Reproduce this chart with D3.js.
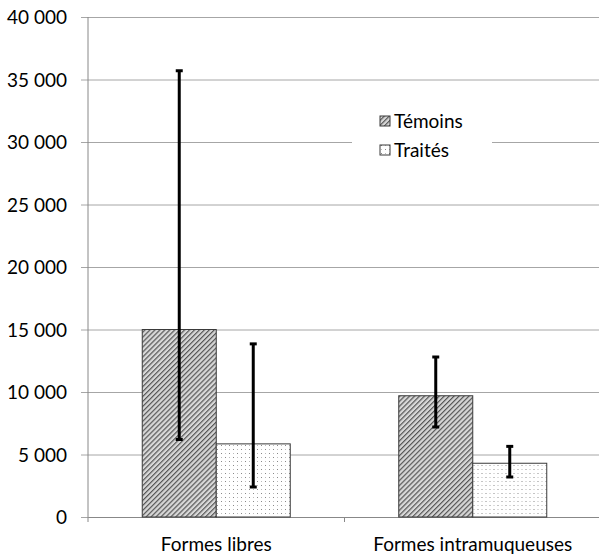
<!DOCTYPE html>
<html>
<head>
<meta charset="utf-8">
<script src="https://cdn.jsdelivr.net/npm/d3@7"></script>
<style>
  body { margin: 0; background: #fff; }
  svg text { font-family: Lato, "Open Sans", sans-serif; fill: #000; }
</style>
</head>
<body>
<svg id="SVG_CONTAINER" width="599" height="558"></svg>
<script>
// data
const categories = ["Formes libres", "Formes intramuqueuses"];
const series = ["Témoins", "Traités"];
const means = [[15000, 5850], [9700, 4300]];
const errLow = [[6200, 2400], [7200, 3200]];
const errHigh = [[35700, 13850], [12800, 5650]];
const yTicks = [0, 5000, 10000, 15000, 20000, 25000, 30000, 35000, 40000];

const MARGIN = {LEFT: 88, RIGHT: -2, TOP: 17, BOTTOM: 41};
const width = 599, height = 558;

let svg = d3.select("#SVG_CONTAINER");

// fill patterns
let defs = svg.append("defs");
let hatch = defs.append("pattern")
    .attr("id", "hatch")
    .attr("patternUnits", "userSpaceOnUse")
    .attr("width", 3.5).attr("height", 3.5)
    .attr("patternTransform", "rotate(45)");
hatch.append("rect").attr("width", 3.5).attr("height", 3.5).attr("fill", "#d8d8d8");
hatch.append("rect").attr("width", 1.2).attr("height", 3.5).attr("fill", "#555");

let dots = defs.append("pattern")
    .attr("id", "dots")
    .attr("patternUnits", "userSpaceOnUse")
    .attr("width", 8).attr("height", 8);
dots.append("rect").attr("width", 8).attr("height", 8).attr("fill", "#fff");
dots.append("rect").attr("x", 1).attr("y", 1).attr("width", 1).attr("height", 1).attr("fill", "#888");
dots.append("rect").attr("x", 5).attr("y", 5).attr("width", 1).attr("height", 1).attr("fill", "#888");
dots.append("rect").attr("x", 5).attr("y", 1).attr("width", 1).attr("height", 1).attr("fill", "#bbb");
dots.append("rect").attr("x", 1).attr("y", 5).attr("width", 1).attr("height", 1).attr("fill", "#bbb");

const fills = {"Témoins": "url(#hatch)", "Traités": "url(#dots)"};

//** SCALES *****************************************
let x0 = d3.scaleBand()
    .domain(categories)
    .range([MARGIN.LEFT, width - MARGIN.RIGHT])
    .padding(0);

let gap = x0.bandwidth() - 148;
let x1 = d3.scaleBand()
    .domain(series)
    .range([gap / 2, x0.bandwidth() - gap / 2])
    .padding(0);

let yScale = d3.scaleLinear()
    .domain([0, 40000])
    .range([height - MARGIN.BOTTOM, MARGIN.TOP]);

let fmt = d3.formatLocale({decimal: ",", thousands: "\u00a0", grouping: [3], currency: ["", ""]}).format(",d");

//** GRID + AXES *****************************************
let yAxis = d3.axisLeft(yScale)
    .tickValues(yTicks)
    .tickSize(-(width - MARGIN.RIGHT - MARGIN.LEFT))
    .tickFormat(fmt);

let yg = svg.append("g")
    .attr("transform", "translate(" + MARGIN.LEFT + ",0)")
    .call(yAxis);
yg.select(".domain").remove();
yg.selectAll(".tick line").attr("stroke", "#a6a6a6").attr("x1", -7);
yg.selectAll(".tick text").style("font-size", "19px").attr("x", -21).attr("dy", "0.35em");

svg.append("line")
    .attr("x1", MARGIN.LEFT).attr("x2", MARGIN.LEFT)
    .attr("y1", MARGIN.TOP).attr("y2", height - MARGIN.BOTTOM + 5)
    .attr("stroke", "#888");

let xAxis = d3.axisBottom(x0).tickSize(0).tickPadding(21);
let xg = svg.append("g")
    .attr("transform", "translate(0," + (height - MARGIN.BOTTOM) + ")")
    .call(xAxis);
xg.select(".domain").attr("stroke", "#888");
xg.selectAll(".tick text").style("font-size", "19px");
// boundary ticks between categories
xg.selectAll(".sep")
    .data(categories.slice(1))
    .enter()
    .append("line")
    .attr("x1", d => x0(d)).attr("x2", d => x0(d))
    .attr("y1", 0).attr("y2", 5)
    .attr("stroke", "#888");

//** BARS *****************************************
let groups = svg.selectAll(".grp")
    .data(categories)
    .enter()
    .append("g")
    .attr("transform", d => "translate(" + x0(d) + ",0)");

groups.each(function (cat, ci) {
    let g = d3.select(this);
    series.forEach(function (s, si) {
        g.append("rect")
            .attr("x", x1(s))
            .attr("y", yScale(means[ci][si]))
            .attr("width", x1.bandwidth())
            .attr("height", yScale(0) - yScale(means[ci][si]))
            .attr("fill", fills[s])
            .attr("stroke", "#3a3a3a")
            .attr("stroke-width", 1);
    });
    series.forEach(function (s, si) {
        let cx = x1(s) + x1.bandwidth() / 2;
        g.append("line")
            .attr("x1", cx).attr("x2", cx)
            .attr("y1", yScale(errLow[ci][si])).attr("y2", yScale(errHigh[ci][si]))
            .attr("stroke", "#000").attr("stroke-width", 3);
        [errLow[ci][si], errHigh[ci][si]].forEach(function (v) {
            g.append("line")
                .attr("x1", cx - 3.5).attr("x2", cx + 3.5)
                .attr("y1", yScale(v)).attr("y2", yScale(v))
                .attr("stroke", "#000").attr("stroke-width", 3);
        });
    });
});

//** LEGEND *****************************************
let legend = svg.append("g").attr("transform", "translate(352,108)");
legend.append("rect").attr("width", 140).attr("height", 58).attr("fill", "#fff");
series.forEach(function (s, i) {
    legend.append("rect")
        .attr("x", 28).attr("y", 8 + i * 29)
        .attr("width", 10).attr("height", 10)
        .attr("fill", fills[s]).attr("stroke", "#3a3a3a");
    legend.append("text")
        .attr("x", 42).attr("y", 20 + i * 29)
        .style("font-size", "19px")
        .text(s);
});
</script>
</body>
</html>
